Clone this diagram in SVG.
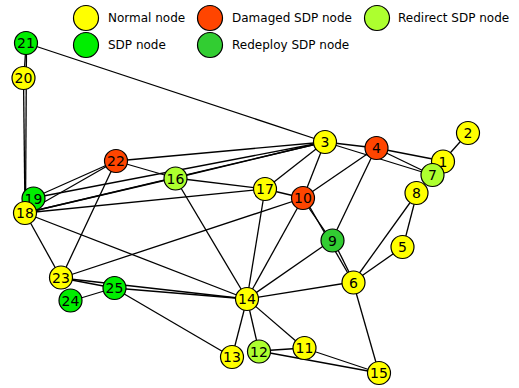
<svg xmlns="http://www.w3.org/2000/svg" width="519" height="388" viewBox="0 0 519 388">
<style>
.e{stroke:#000;stroke-width:1.3;fill:none}
.n circle{stroke:#000;stroke-width:1.2}
.n text,.lg text{font-family:"DejaVu Sans",sans-serif;fill:#000}
.n text{font-size:14px;text-anchor:middle}
.lg text{font-size:12px}
.y{fill:#FFFF00}.d{fill:#FF4500}.r{fill:#ADFF2F}.s{fill:#00EE00}.p{fill:#32CD32}
</style>
<rect width="519" height="388" fill="#fff"/>
<g id="legend" class="lg n">
<circle class="y" cx="86" cy="18" r="12.5"/><text x="108" y="22" style="text-anchor:start;font-size:12px">Normal node</text>
<circle class="d" cx="210" cy="18" r="12.5"/><text x="232" y="22" style="text-anchor:start;font-size:12px">Damaged SDP node</text>
<circle class="r" cx="377" cy="18" r="12.5"/><text x="398" y="22" style="text-anchor:start;font-size:12px">Redirect SDP node</text>
<circle class="s" cx="86" cy="45" r="12.5"/><text x="108" y="49" style="text-anchor:start;font-size:12px">SDP node</text>
<circle class="p" cx="210" cy="45" r="12.5"/><text x="232" y="49" style="text-anchor:start;font-size:12px">Redeploy SDP node</text>
</g>
<g id="edges" class="e">
<line x1="26" y1="43" x2="24" y2="78"/>
<line x1="26.5" y1="43" x2="25.5" y2="213"/>
<line x1="23.5" y1="78" x2="25" y2="213"/>
<line x1="26" y1="43" x2="325" y2="142"/>
<line x1="325" y1="142" x2="376" y2="148"/>
<line x1="325" y1="142" x2="432" y2="175"/>
<line x1="376" y1="148" x2="443" y2="161"/>
<line x1="376" y1="148" x2="432" y2="175"/>
<line x1="443" y1="161" x2="468" y2="133"/>
<line x1="325" y1="142" x2="116" y2="161"/>
<line x1="325" y1="142" x2="25" y2="213"/>
<line x1="325" y1="142" x2="33" y2="198"/>
<line x1="325" y1="142" x2="175" y2="178"/>
<line x1="325" y1="142" x2="265" y2="189"/>
<line x1="325" y1="142" x2="303" y2="198"/>
<line x1="376" y1="148" x2="303" y2="198"/>
<line x1="376" y1="148" x2="332" y2="240"/>
<line x1="116" y1="161" x2="175" y2="178"/>
<line x1="116" y1="161" x2="33" y2="198"/>
<line x1="116" y1="161" x2="25" y2="213"/>
<line x1="116" y1="161" x2="61" y2="278"/>
<line x1="175" y1="178" x2="265" y2="189"/>
<line x1="175" y1="178" x2="25" y2="213"/>
<line x1="175" y1="178" x2="247" y2="299"/>
<line x1="265" y1="189" x2="303" y2="198"/>
<line x1="265" y1="189" x2="25" y2="213"/>
<line x1="265" y1="189" x2="247" y2="299"/>
<line x1="25" y1="213" x2="247" y2="299"/>
<line x1="25" y1="213" x2="61" y2="278"/>
<line x1="303" y1="198" x2="61" y2="278"/>
<line x1="303" y1="198" x2="247" y2="299"/>
<line x1="302" y1="198" x2="331" y2="240"/>
<line x1="304" y1="197" x2="353" y2="282"/>
<line x1="333" y1="240" x2="354" y2="282"/>
<line x1="332" y1="240" x2="247" y2="299"/>
<line x1="417" y1="193" x2="353" y2="282"/>
<line x1="417" y1="193" x2="403" y2="247"/>
<line x1="403" y1="247" x2="353" y2="282"/>
<line x1="353" y1="282" x2="247" y2="299"/>
<line x1="353" y1="282" x2="379" y2="373"/>
<line x1="61" y1="278" x2="114" y2="288"/>
<line x1="61" y1="278" x2="247" y2="299"/>
<line x1="71" y1="301" x2="114" y2="288"/>
<line x1="114" y1="288" x2="247" y2="299"/>
<line x1="114" y1="288" x2="232" y2="357"/>
<line x1="247" y1="299" x2="232" y2="357"/>
<line x1="247" y1="299" x2="259" y2="351"/>
<line x1="247" y1="299" x2="304" y2="348"/>
<line x1="259" y1="351" x2="304" y2="348"/>
<line x1="259" y1="351" x2="379" y2="373"/>
<line x1="304" y1="348" x2="379" y2="373"/>
</g>
<g id="n21" class="n"><circle class="s" cx="26" cy="43" r="11.5"/><text x="26" y="48">21</text></g>
<g id="n20" class="n"><circle class="y" cx="23.5" cy="78" r="11.5"/><text x="23.5" y="83">20</text></g>
<g id="n2" class="n"><circle class="y" cx="468" cy="133" r="11.5"/><text x="468" y="138">2</text></g>
<g id="n3" class="n"><circle class="y" cx="325" cy="142" r="11.5"/><text x="325" y="147">3</text></g>
<g id="n4" class="n"><circle class="d" cx="376.5" cy="148" r="11.5"/><text x="376.5" y="153">4</text></g>
<g id="n1" class="n"><circle class="y" cx="443" cy="161.5" r="11.5"/><text x="443" y="166.5">1</text></g>
<g id="n8" class="n"><circle class="y" cx="416.5" cy="193" r="11.5"/><text x="416.5" y="198">8</text></g>
<g id="n7" class="n"><circle class="r" cx="432.5" cy="175" r="11.5"/><text x="432.5" y="180">7</text></g>
<g id="n5" class="n"><circle class="y" cx="402.5" cy="247" r="11.5"/><text x="402.5" y="252">5</text></g>
<g id="n22" class="n"><circle class="d" cx="116" cy="161" r="11.5"/><text x="116" y="166">22</text></g>
<g id="n16" class="n"><circle class="r" cx="175.5" cy="178.5" r="11.5"/><text x="175.5" y="183.5">16</text></g>
<g id="n17" class="n"><circle class="y" cx="265" cy="189" r="11.5"/><text x="265" y="194">17</text></g>
<g id="n10" class="n"><circle class="d" cx="303" cy="198" r="11.5"/><text x="303" y="203">10</text></g>
<g id="n9" class="n"><circle class="p" cx="332.5" cy="240.5" r="11.5"/><text x="332.5" y="245.5">9</text></g>
<g id="n6" class="n"><circle class="y" cx="353.5" cy="282.5" r="11.5"/><text x="353.5" y="287.5">6</text></g>
<g id="n19" class="n"><circle class="s" cx="33.5" cy="198.5" r="11.5"/><text x="33.5" y="203.5">19</text></g>
<g id="n18" class="n"><circle class="y" cx="25" cy="213" r="11.5"/><text x="25" y="218">18</text></g>
<g id="n24" class="n"><circle class="s" cx="70.5" cy="300.5" r="11.5"/><text x="70.5" y="305.5">24</text></g>
<g id="n23" class="n"><circle class="y" cx="61" cy="277.5" r="11.5"/><text x="61" y="282.5">23</text></g>
<g id="n25" class="n"><circle class="s" cx="114.5" cy="288" r="11.5"/><text x="114.5" y="293">25</text></g>
<g id="n14" class="n"><circle class="y" cx="247" cy="299" r="11.5"/><text x="247" y="304">14</text></g>
<g id="n13" class="n"><circle class="y" cx="232" cy="357" r="11.5"/><text x="232" y="362">13</text></g>
<g id="n12" class="n"><circle class="r" cx="259" cy="351.5" r="11.5"/><text x="259" y="356.5">12</text></g>
<g id="n11" class="n"><circle class="y" cx="304.5" cy="348" r="11.5"/><text x="304.5" y="353">11</text></g>
<g id="n15" class="n"><circle class="y" cx="379" cy="373" r="11.5"/><text x="379" y="378">15</text></g>
</svg>
